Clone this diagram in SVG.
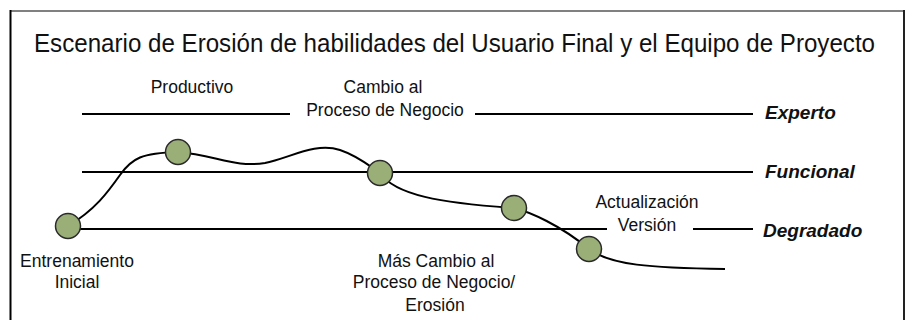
<svg xmlns="http://www.w3.org/2000/svg" width="907" height="320" viewBox="0 0 907 320">
<style>
.t{font-family:"Liberation Sans",Arial,sans-serif;font-size:17.5px;fill:#111;text-anchor:middle}
.lv{font-family:"Liberation Sans",Arial,sans-serif;font-size:19px;font-weight:bold;font-style:italic;fill:#111}
.ln{stroke:#000;stroke-width:2;fill:none}
.nd{fill:#9aae78;stroke:#2a2a2a;stroke-width:1.5}
</style>
<rect width="907" height="320" fill="#fff"/>
<g id="frame">
<line x1="10.5" y1="11" x2="904" y2="11" stroke="#808080" stroke-width="2"/>
<line x1="10.5" y1="10" x2="10.5" y2="320" stroke="#000" stroke-width="2"/>
<line x1="904" y1="10" x2="904" y2="320" stroke="#222" stroke-width="2"/>
</g>
<text transform="translate(454.5,52) scale(1,1.18)" x="0" y="0" text-anchor="middle" font-family="Liberation Sans,Arial,sans-serif" font-size="22" fill="#111" textLength="841" lengthAdjust="spacingAndGlyphs">Escenario de Erosión de habilidades del Usuario Final y el Equipo de Proyecto</text>
<g id="connectors">
<line class="ln" x1="82" y1="114" x2="290" y2="114"/>
<line class="ln" x1="475" y1="114" x2="753" y2="114"/>
<line class="ln" x1="82" y1="172" x2="753" y2="172"/>
<line class="ln" x1="68" y1="229" x2="607" y2="229"/>
<line class="ln" x1="693" y1="229" x2="753" y2="229"/>
<path class="ln" d="M68,226 C95,210 108,192 120,175 C132,158 142,153 178,152 C215,155 235,168 265,163 C290,158 315,142 340,150 C358,156 368,165 380,173 C395,195 440,203 514,208 C530,212 560,225 589,249 C610,265 650,268 725,269"/>
</g>
<g id="levels">
<text class="lv" x="765" y="119">Experto</text>
<text class="lv" x="765" y="178">Funcional</text>
<text class="lv" x="763" y="237">Degradado</text>
</g>
<g id="n1"><circle class="nd" cx="68" cy="226" r="12.5"/><text class="t" x="77" y="267">Entrenamiento</text><text class="t" x="77" y="288">Inicial</text></g>
<g id="n2"><circle class="nd" cx="178" cy="152" r="12.5"/><text class="t" x="192" y="93">Productivo</text></g>
<g id="n3"><circle class="nd" cx="380" cy="173" r="12.5"/><text class="t" x="383" y="93">Cambio al</text><text class="t" x="385" y="116">Proceso de Negocio</text></g>
<g id="n4"><circle class="nd" cx="514" cy="208" r="12.5"/><text class="t" x="436" y="267">Más Cambio al</text><text class="t" x="434" y="288">Proceso de Negocio/</text><text class="t" x="435" y="311">Erosión</text></g>
<g id="n5"><circle class="nd" cx="589" cy="249" r="12.5"/><text class="t" x="647" y="208">Actualización</text><text class="t" x="647" y="231">Versión</text></g>
</svg>
